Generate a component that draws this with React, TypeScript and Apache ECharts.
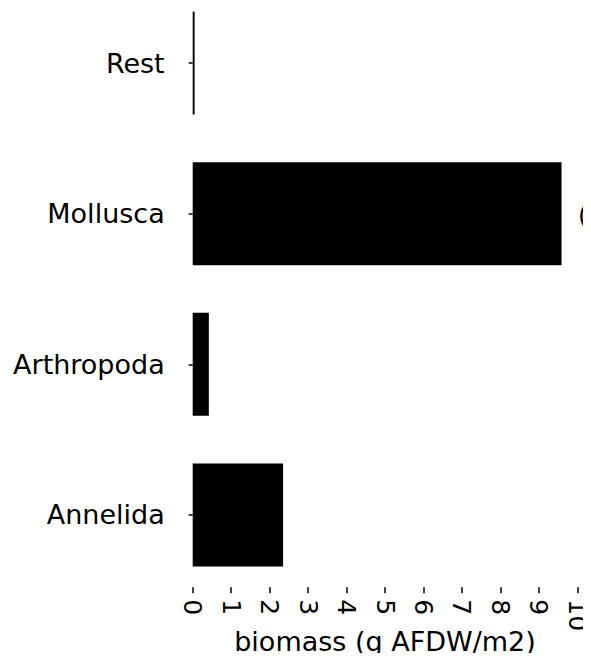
import React, { useEffect, useRef } from "react";
import * as echarts from "echarts";

const categories = ["Annelida", "Arthropoda", "Mollusca", "Rest"];
const biomass = [2.35, 0.42, 9.59, 0.05];
const xTicks = [0, 10, 1]; // min, max, interval
const xTitle = "biomass (g AFDW/m2)";
const stray = "(";

const FONT = "DejaVu Sans";

export default function App() {
  const ref = useRef<HTMLDivElement>(null);
  useEffect(() => {
    if (!ref.current) return;
    const chart = echarts.init(ref.current, undefined, { renderer: "svg" });
    chart.setOption({
      animation: false,
      backgroundColor: "#ffffff",
      title: {
        text: stray,
        left: 578,
        top: 203,
        padding: 0,
        textStyle: { color: "#000", fontFamily: FONT, fontSize: 25, fontWeight: "normal" },
      },
      grid: {
        left: 192.7,
        right: 13.7,
        top: -12.3,
        bottom: 70.7,
        containLabel: false,
        outerBoundsMode: "none",
      },
      xAxis: {
        type: "value",
        min: xTicks[0],
        max: xTicks[1],
        interval: xTicks[2],
        offset: -3,
        axisLine: { show: false },
        axisTick: { show: true, length: 6, lineStyle: { color: "#000", width: 1.5 } },
        splitLine: { show: false },
        axisLabel: {
          rotate: -90,
          margin: 12,
          color: "#000",
          fontFamily: FONT,
          fontSize: 25,
        },
        name: xTitle,
        nameLocation: "middle",
        nameGap: 41,
        nameMoveOverlap: false,
        nameTextStyle: { color: "#000", fontFamily: FONT, fontSize: 27, verticalAlign: "top" },
      },
      yAxis: {
        type: "category",
        data: categories,
        axisLine: { show: false },
        axisTick: { show: true, alignWithLabel: true, length: 4, lineStyle: { color: "#000", width: 1.5 } },
        axisLabel: {
          margin: 28,
          color: "#000",
          fontFamily: FONT,
          fontSize: 27,
        },
        splitLine: { show: false },
      },
      series: [
        {
          type: "bar",
          data: biomass,
          barWidth: 103,
          itemStyle: { color: "#000" },
        },
      ],
    });
    return () => chart.dispose();
  }, []);
  return <div ref={ref} style={{ width: 591, height: 661, margin: "-8px" }} />;
}
